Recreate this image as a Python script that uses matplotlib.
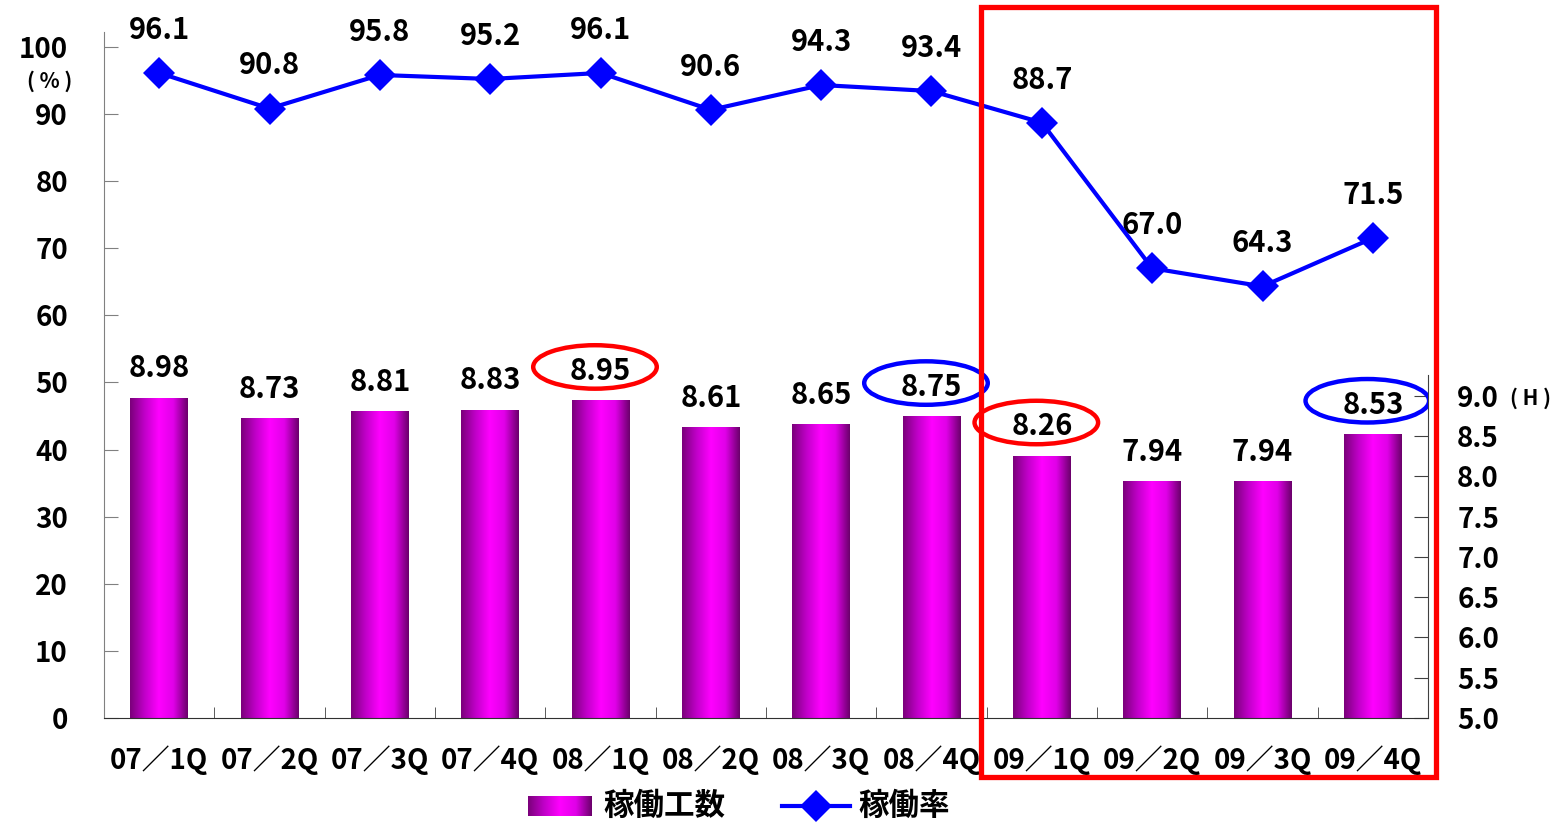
import numpy as np
import matplotlib
matplotlib.use("Agg")
import matplotlib.pyplot as plt
from matplotlib.colors import LinearSegmentedColormap
from matplotlib.patches import Ellipse, Rectangle
from matplotlib.lines import Line2D

plt.rcParams['font.family'] = ['Noto Sans CJK JP', 'DejaVu Sans']

# quarterly data
quarters = ["07／1Q", "07／2Q", "07／3Q", "07／4Q", "08／1Q", "08／2Q",
            "08／3Q", "08／4Q", "09／1Q", "09／2Q", "09／3Q", "09／4Q"]
hours = [8.98, 8.73, 8.81, 8.83, 8.95, 8.61, 8.65, 8.75, 8.26, 7.94, 7.94, 8.53]
rate = [96.1, 90.8, 95.8, 95.2, 96.1, 90.6, 94.3, 93.4, 88.7, 67.0, 64.3, 71.5]
red_marks = [4, 8]
blue_marks = [7, 11]

W, H = 1563, 822
fig = plt.figure(figsize=(W / 100, H / 100), dpi=100)

def fx(px):
    return px / W

def fy(py):
    return 1 - py / H

ax = fig.add_axes([fx(104), fy(718), fx(1428 - 104), (718 - 32) / H])
ax2 = ax.twinx()
ax.set_zorder(ax2.get_zorder() + 1)
ax.patch.set_visible(False)

x = np.arange(len(quarters))
grad_cmap = LinearSegmentedColormap.from_list(
    "bar", ["#7a007a", "#c000c8", "#ff00ff", "#e000e8", "#6a006a"])
grad = np.linspace(0, 1, 256).reshape(1, -1)

# hours as gradient bars on the right axis
base = 5.0
bars = ax2.bar(x, np.array(hours) - base, bottom=base, width=0.52,
               color="none", edgecolor="none")
for b in bars:
    im = ax2.imshow(grad, cmap=grad_cmap, aspect="auto",
                    extent=(b.get_x(), b.get_x() + b.get_width(), base, base + b.get_height()),
                    zorder=2)
    im.set_clip_path(b)

for i, h in enumerate(hours):
    ax2.annotate(f"{h:.2f}", (i, h), xytext=(0, 21), textcoords="offset points",
                 ha="center", va="center", fontsize=21, fontweight="bold")

for idxs, col in ((red_marks, "#ff0000"), (blue_marks, "#0000ff")):
    for i in idxs:
        ax2.add_patch(Ellipse((i - 0.05, hours[i] + 0.41), 1.12, 0.54,
                              fill=False, edgecolor=col, lw=3.2, zorder=5))

ax2.set_ylim(base, 13.52)
ax2.set_yticks(np.arange(5.0, 9.01, 0.5))
ax2.set_yticklabels([f"{v:.1f}" for v in np.arange(5.0, 9.01, 0.5)],
                    fontsize=20, fontweight="bold")
ax2.tick_params(axis="y", direction="in", length=10, pad=21, color="#404040")
ax2.spines["right"].set_bounds(base, 9.26)
ax2.spines["right"].set_color("#404040")
for s in ("left", "top", "bottom"):
    ax2.spines[s].set_visible(False)

# operating rate line on the left axis
ax.plot(x, rate, color="#0000ff", lw=3, marker="D", ms=16, mew=0, zorder=4)
for i, r in enumerate(rate):
    ax.annotate(f"{r:.1f}", (i, r), xytext=(0, 31), textcoords="offset points",
                ha="center", va="center", fontsize=21, fontweight="bold")

ax.set_xlim(-0.5, len(quarters) - 0.5)
ax.set_ylim(0, 102.2)
ax.set_yticks(range(0, 101, 10))
ax.set_yticklabels([str(v) for v in range(0, 101, 10)], fontsize=20, fontweight="bold")
ax.tick_params(axis="y", direction="in", length=10, pad=26, color="#808080")
ax.set_xticks(x)
ax.set_xticklabels(quarters, fontsize=20, fontweight="bold")
ax.tick_params(axis="x", length=0, pad=20)
ax.set_xticks(np.arange(0.5, len(quarters) - 0.5, 1), minor=True)
ax.tick_params(axis="x", which="minor", direction="in", length=8, color="#404040")
ax.spines["left"].set_color("#808080")
ax.spines["bottom"].set_color("#303030")
ax.spines["top"].set_visible(False)
ax.spines["right"].set_visible(False)

fig.text(fx(50), fy(81), "( % )", ha="center", va="center", fontsize=15, fontweight="bold")
fig.text(fx(1530), fy(398), "( H )", ha="center", va="center", fontsize=15, fontweight="bold")

# highlight box around 2009
fig.add_artist(Rectangle((fx(981), fy(777)), fx(1436 - 981), (777 - 7) / H,
                         transform=fig.transFigure, fill=False,
                         edgecolor="#ff0000", lw=3.8, zorder=10))

# legend
lax = fig.add_axes([fx(528), fy(816), fx(64), 20 / H])
lax.imshow(grad, cmap=grad_cmap, aspect="auto")
lax.axis("off")
fig.text(fx(603), fy(806), "稼働工数", ha="left", va="center", fontsize=22, fontweight="bold")
fig.add_artist(Line2D([fx(782), fx(850)], [fy(806), fy(806)], transform=fig.transFigure,
                      color="#0000ff", lw=3))
fig.add_artist(Line2D([fx(816)], [fy(806)], transform=fig.transFigure,
                      color="#0000ff", marker="D", ms=16, mew=0, lw=0))
fig.text(fx(858), fy(806), "稼働率", ha="left", va="center", fontsize=22, fontweight="bold")

fig.savefig("out.png", dpi=100)
